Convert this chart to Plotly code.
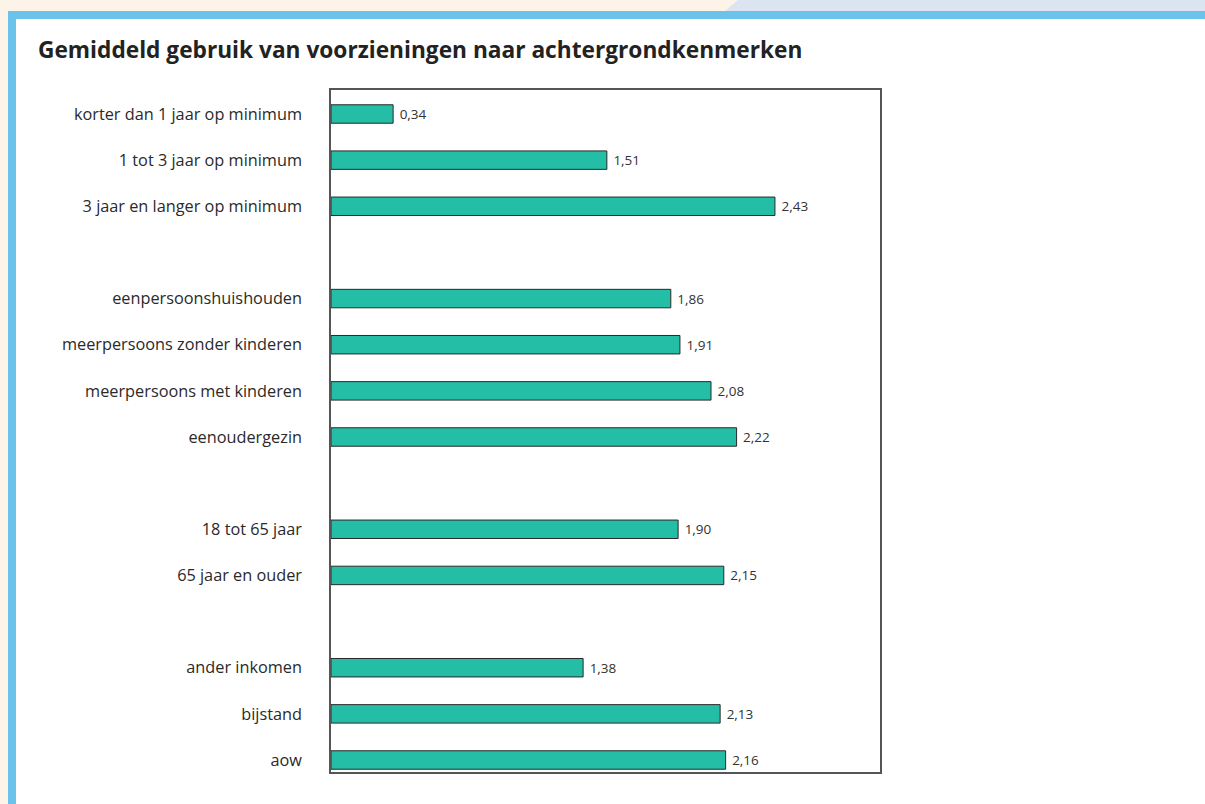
import plotly.graph_objects as go

# ---------------------------------------------------------------------------
# Data
# ---------------------------------------------------------------------------
CATEGORIES = [
    "korter dan 1 jaar op minimum",
    "1 tot 3 jaar op minimum",
    "3 jaar en langer op minimum",
    " ",
    "eenpersoonshuishouden",
    "meerpersoons zonder kinderen",
    "meerpersoons met kinderen",
    "eenoudergezin",
    "  ",
    "18 tot 65 jaar",
    "65 jaar en ouder",
    "   ",
    "ander inkomen",
    "bijstand",
    "aow",
]
VALUES = [0.34, 1.51, 2.43, None, 1.86, 1.91, 2.08, 2.22, None, 1.90, 2.15, None, 1.38, 2.13, 2.16]
# Dutch decimal comma; leading nbsp widens the gap between bar end and label
VALUE_LABELS = ["\u00a0" + f"{v:.2f}".replace(".", ",") if v is not None else "" for v in VALUES]

TITLE = "Gemiddeld gebruik van voorzieningen naar achtergrondkenmerken"

# ---------------------------------------------------------------------------
# Page geometry (pixels) -> paper coordinates
# ---------------------------------------------------------------------------
W, H = 1205, 804
PL, PR, PT, PB = 331, 880, 90, 772


def px(x):
    return (x - PL) / (PR - PL)


def py(y):
    return (PB - y) / (PB - PT)


BEIGE = "#fdf4e9"
FRAME_BLUE = "#6bc2eb"
BAND_BLUE = "#dce3f1"
BAR_GREEN = "#24bda5"

fig = go.Figure(go.Bar(
    y=CATEGORIES,
    x=VALUES,
    orientation="h",
    width=0.4,
    marker=dict(color=BAR_GREEN, line=dict(color="#2a2a2a", width=1)),
    text=VALUE_LABELS,
    textposition="outside",
    textfont=dict(size=13.5, color="#333333"),
    cliponaxis=False,
    hoverinfo="skip",
))

shapes = [
    # light blue band at the top right
    dict(type="path", xref="paper", yref="paper", layer="below",
         path=f"M {px(725)},{py(11)} L {px(738)},{py(0)} L {px(W)},{py(0)} L {px(W)},{py(11)} Z",
         fillcolor=BAND_BLUE, line=dict(width=0)),
    # blue frame
    dict(type="rect", xref="paper", yref="paper", layer="below",
         x0=px(8), x1=px(W), y0=py(H), y1=py(11),
         fillcolor=FRAME_BLUE, line=dict(width=0)),
    # white panel
    dict(type="rect", xref="paper", yref="paper", layer="below",
         x0=px(16), x1=px(W), y0=py(H), y1=py(19),
         fillcolor="white", line=dict(width=0)),
]

fig.update_layout(
    width=W,
    height=H,
    margin=dict(l=PL, r=W - PR, t=PT, b=H - PB, pad=0),
    paper_bgcolor=BEIGE,
    plot_bgcolor="white",
    showlegend=False,
    font=dict(family="Open Sans, Noto Sans, sans-serif", size=16, color="#222222"),
    title=dict(
        text=f"<b>{TITLE}</b>",
        x=38 / W, xref="container", xanchor="left",
        y=1 - 50 / H, yref="container", yanchor="middle",
        font=dict(size=22.7, color="#222222"),
    ),
    shapes=shapes,
)

fig.update_xaxes(
    range=[0, 3.005],
    showticklabels=False,
    ticks="",
    showgrid=False,
    zeroline=False,
    showline=True,
    mirror=True,
    linecolor="#555555",
    linewidth=1.5,
)
fig.update_yaxes(
    type="category",
    categoryorder="array",
    categoryarray=CATEGORIES,
    range=[14.26, -0.52],
    showgrid=False,
    zeroline=False,
    ticks="",
    ticklabelstandoff=24,
    tickfont=dict(size=16.3, color="#2a2a2a"),
    showline=True,
    mirror=True,
    linecolor="#555555",
    linewidth=1.5,
)

# drop the default body margin so the figure sits flush with the window
fig.write_html(
    "out.html",
    config={"displayModeBar": False},
    post_script="document.body.style.margin='0';",
)
